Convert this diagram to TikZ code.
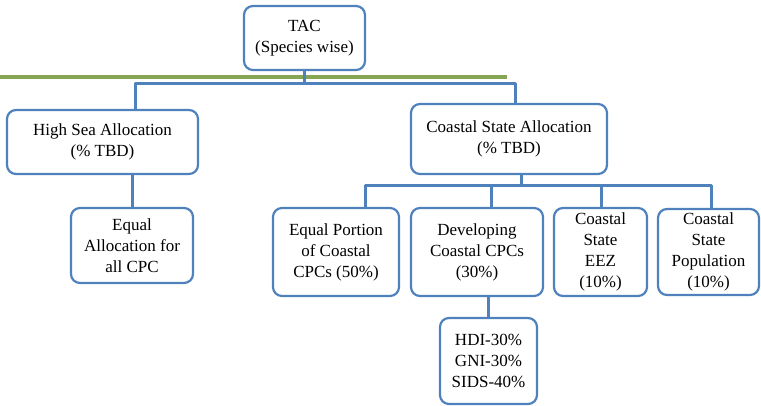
\documentclass[tikz,border=0pt]{standalone}
\usepackage{fontspec}
\setmainfont{Liberation Serif}
\usepackage{tikz}
\definecolor{boxblue}{RGB}{79,129,189}
\definecolor{rulegreen}{RGB}{134,166,84}
\tikzset{
  box/.style={draw=boxblue, line width=2.2pt, rounded corners=9pt, fill=white,
    align=center, inner sep=0pt, font=\fontsize{17}{21}\selectfont},
  link/.style={draw=boxblue, line width=3pt, line join=round},
}

\begin{document}
\begin{tikzpicture}[x=1pt,y=-1pt]
\useasboundingbox (0,0) rectangle (761,405);
\node[box, minimum width=121pt, minimum height=64pt] (tac) at (304.5,38) {TAC\\(Species wise)};
\node[box, minimum width=191pt, minimum height=64pt] (high) at (102.5,142) {High Sea Allocation\\(\% TBD)};
\node[box, minimum width=196pt, minimum height=70pt] (coastal) at (509,139) {Coastal State Allocation\\(\% TBD)};
\node[box, minimum width=122pt, minimum height=75pt] (equal) at (132,245.5) {Equal\\Allocation for\\all CPC};
\node[box, minimum width=126pt, minimum height=88pt] (portion) at (336,252) {Equal Portion\\of Coastal\\CPCs (50\%)};
\node[box, minimum width=132pt, minimum height=88pt] (dev) at (477,252) {Developing\\Coastal CPCs\\(30\%)};
\node[box, minimum width=93pt, minimum height=88pt] (eez) at (600.5,252) {Coastal\\State\\EEZ\\(10\%)};
\node[box, minimum width=101pt, minimum height=86pt] (pop) at (708.5,252) {Coastal\\State\\Population\\(10\%)};
\node[box, minimum width=97pt, minimum height=86pt] (hdi) at (488.5,361) {HDI-30\%\\GNI-30\%\\SIDS-40\%};
% rule
\coordinate (g1) at (0,77);
\coordinate (g2) at (507,77);
\draw[rulegreen, line width=3.5pt] (g1) -- (g2);
% top level
\coordinate (hs) at (135,83);
\coordinate (cs) at (515,83);
\draw[link] (tac.south) -- (tac.south |- hs);
\draw[link] (hs |- high.north) -- (hs) -- (cs) -- (cs |- coastal.north);
\draw[link] (equal.north) -- (equal.north |- high.south);
% coastal level
\coordinate (cd) at (521,185);
\coordinate (r1) at (365,185);
\coordinate (r2) at (491,185);
\coordinate (r3) at (601,185);
\coordinate (r4) at (711,185);
\draw[link] (coastal.south -| cd) -- (cd);
\draw[link] (portion.north -| r1) -- (r1) -- (r4) -- (pop.north -| r4);
\draw[link] (r2) -- (dev.north -| r2);
\draw[link] (r3) -- (eez.north -| r3);
\draw[link] (hdi.north) -- (hdi.north |- dev.south);
\end{tikzpicture}
\end{document}
